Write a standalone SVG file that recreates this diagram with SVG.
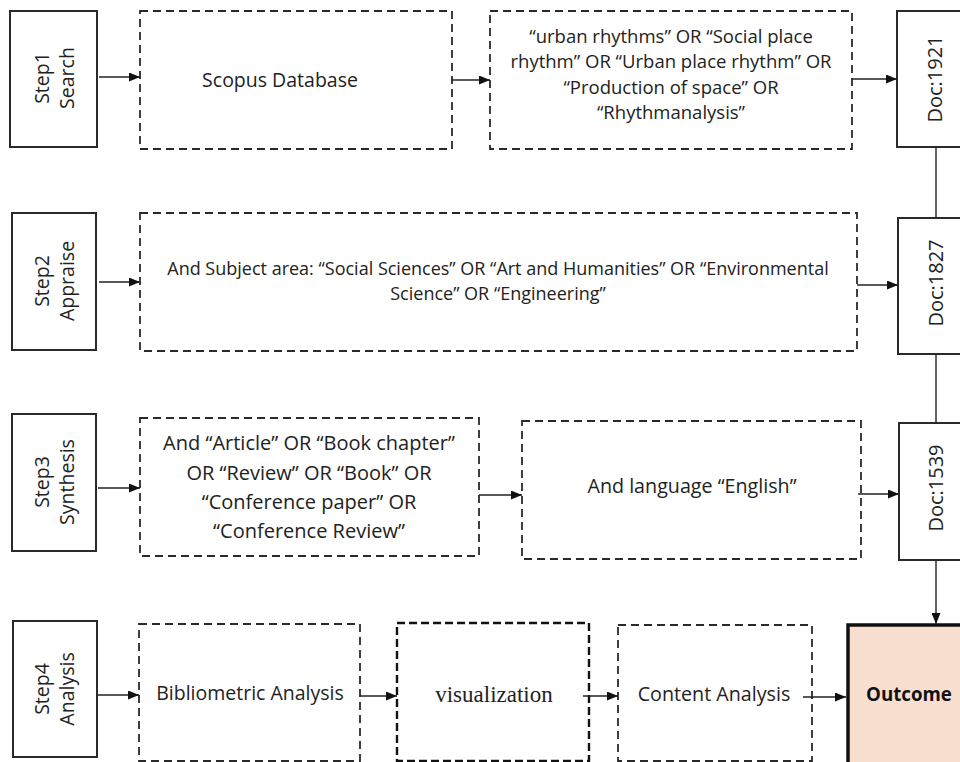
<svg xmlns="http://www.w3.org/2000/svg" width="960" height="762" viewBox="0 0 960 762">
<style>
.bg{fill:#ffffff}
.step{fill:#ffffff;stroke:#2a2a2a;stroke-width:2}
.dash{fill:#ffffff;stroke:#2a2a2a;stroke-width:1.8;stroke-dasharray:8 5}
.dashb{fill:#ffffff;stroke:#111;stroke-width:2.4;stroke-dasharray:8 4}
.doc{fill:#ffffff;stroke:#2a2a2a;stroke-width:2}
.out{fill:#f9dfcf;stroke:#111;stroke-width:3.5}
.t{font-family:"Open Sans","Liberation Sans",sans-serif;font-size:18px;fill:#222;text-anchor:middle}
.ts{font-family:"Open Sans","Liberation Sans",sans-serif;font-size:19.5px;fill:#222;text-anchor:middle}
.td{font-family:"Open Sans","Liberation Sans",sans-serif;font-size:20px;fill:#222;text-anchor:middle}
.serif{font-family:"Liberation Serif","Times New Roman",serif;font-size:23px;fill:#222;text-anchor:middle}
.bold{font-family:"Open Sans","Liberation Sans",sans-serif;font-size:18.7px;font-weight:bold;fill:#111;text-anchor:middle}
.c{stroke:#222;stroke-width:1.4;fill:none}
</style>
<defs>
<marker id="ah" markerWidth="11" markerHeight="9" refX="11" refY="4.5" orient="auto" markerUnits="userSpaceOnUse">
<path d="M0,0 L11,4.5 L0,9 Z" fill="#111"/>
</marker>
</defs>
<rect class="bg" x="0" y="0" width="960" height="762"/>

<g id="step1"><rect class="step" x="10" y="11" width="87" height="136"/>
<text class="ts" transform="translate(49,78) rotate(-90)">Step1</text>
<text class="ts" transform="translate(74,78) rotate(-90)">Search</text></g>

<g id="scopus"><rect class="dash" x="140" y="11" width="312" height="138"/>
<text class="ts" x="280" y="87">Scopus Database</text></g>

<g id="query"><rect class="dash" x="490" y="11" width="362" height="138"/>
<text class="t" x="671" y="43" style="font-size:18.5px">“urban rhythms” OR “Social place</text>
<text class="t" x="671" y="68" style="font-size:18.5px">rhythm” OR “Urban place rhythm” OR</text>
<text class="t" x="671" y="94" style="font-size:18.5px">“Production of space” OR</text>
<text class="t" x="671" y="119" style="font-size:18.5px">“Rhythmanalysis”</text></g>

<g id="doc1921"><rect class="doc" x="897" y="11" width="80" height="136"/>
<text class="td" transform="translate(942,79) rotate(-90)">Doc:1921</text></g>

<g id="step2"><rect class="step" x="12" y="213" width="84" height="137"/>
<text class="ts" transform="translate(49,281) rotate(-90)">Step2</text>
<text class="ts" transform="translate(74,281) rotate(-90)">Appraise</text></g>

<g id="subject"><rect class="dash" x="140" y="213" width="717" height="138"/>
<text class="t" x="498" y="275">And Subject area: “Social Sciences” OR “Art and Humanities” OR “Environmental</text>
<text class="t" x="498" y="300">Science” OR “Engineering”</text></g>

<g id="doc1827"><rect class="doc" x="898" y="218" width="80" height="136"/>
<text class="td" transform="translate(943,283) rotate(-90)">Doc:1827</text></g>

<g id="step3"><rect class="step" x="12" y="414" width="84" height="137"/>
<text class="ts" transform="translate(49,482) rotate(-90)">Step3</text>
<text class="ts" transform="translate(74,482) rotate(-90)">Synthesis</text></g>

<g id="types"><rect class="dash" x="140" y="418" width="339" height="138"/>
<text class="td" x="309" y="450">And “Article” OR “Book chapter”</text>
<text class="td" x="309" y="480">OR “Review” OR “Book” OR</text>
<text class="td" x="309" y="509">“Conference paper” OR</text>
<text class="td" x="309" y="538">“Conference Review”</text></g>

<g id="language"><rect class="dash" x="522" y="421" width="339" height="138"/>
<text class="td" x="692" y="493" style="font-size:19.7px">And language “English”</text></g>

<g id="doc1539"><rect class="doc" x="899" y="423" width="80" height="137"/>
<text class="td" transform="translate(943,488) rotate(-90)">Doc:1539</text></g>

<g id="step4"><rect class="step" x="13" y="621" width="84" height="136"/>
<text class="ts" transform="translate(49,689) rotate(-90)">Step4</text>
<text class="ts" transform="translate(74,689) rotate(-90)">Analysis</text></g>

<g id="biblio"><rect class="dash" x="139" y="624" width="221" height="137"/>
<text class="ts" x="250" y="700">Bibliometric Analysis</text></g>

<g id="visual"><rect class="dashb" x="397" y="623" width="192" height="138"/>
<text class="serif" x="494" y="702">visualization</text></g>

<g id="content"><rect class="dash" x="618" y="625" width="194" height="136"/>
<text class="td" x="714" y="701" style="font-size:19.7px">Content Analysis</text></g>

<g id="outcome"><rect class="out" x="848" y="625" width="130" height="150"/>
<text class="bold" x="909" y="701">Outcome</text></g>

<g id="connectors">
<line class="c" x1="99" y1="77" x2="140" y2="77" marker-end="url(#ah)"/>
<line class="c" x1="452" y1="80" x2="490" y2="80" marker-end="url(#ah)"/>
<line class="c" x1="852" y1="79" x2="897" y2="79" marker-end="url(#ah)"/>
<line class="c" x1="936" y1="147" x2="936" y2="218"/>
<line class="c" x1="99" y1="282" x2="140" y2="282" marker-end="url(#ah)"/>
<line class="c" x1="857" y1="285" x2="898" y2="285" marker-end="url(#ah)"/>
<line class="c" x1="936" y1="354" x2="936" y2="423"/>
<line class="c" x1="98" y1="488" x2="140" y2="488" marker-end="url(#ah)"/>
<line class="c" x1="479" y1="495" x2="522" y2="495" marker-end="url(#ah)"/>
<line class="c" x1="858" y1="494" x2="899" y2="494" marker-end="url(#ah)"/>
<line class="c" x1="936" y1="560" x2="936" y2="624" marker-end="url(#ah)"/>
<line class="c" x1="97" y1="695" x2="139" y2="695" marker-end="url(#ah)"/>
<line class="c" x1="360" y1="696" x2="397" y2="696" marker-end="url(#ah)"/>
<line class="c" x1="583" y1="696" x2="618" y2="696" marker-end="url(#ah)"/>
<line class="c" x1="803" y1="697" x2="846" y2="697" marker-end="url(#ah)"/>
</g>
</svg>
